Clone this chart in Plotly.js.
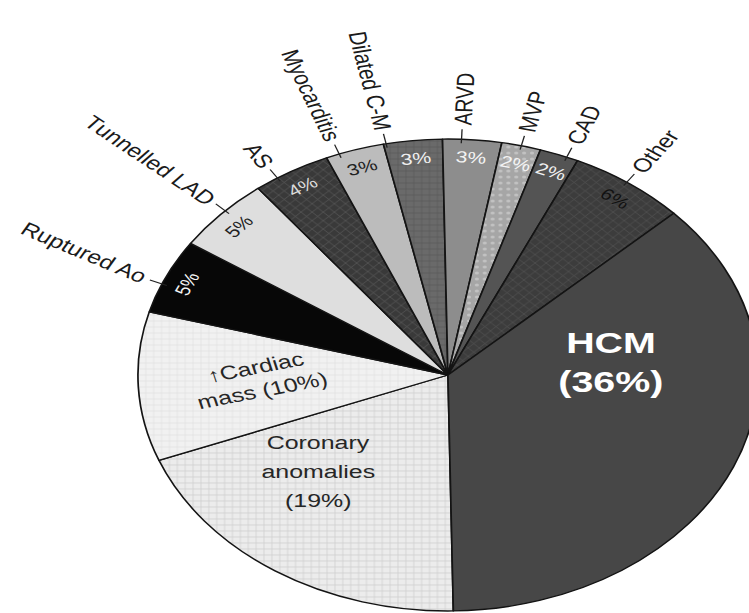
<!DOCTYPE html>
<html><head><meta charset="utf-8">
<script src="https://cdn.plot.ly/plotly-3.0.1.min.js"></script>
<style>
html,body{margin:0;padding:0;overflow:hidden;background:#fff;width:749px;height:613px;}
#chart{width:600px;height:613px;transform:scaleX(1.3136);transform-origin:0 0;}
</style></head><body><div id="chart"></div>
<script>
// ---- data (clockwise from 6 o'clock) ----
const categories = ['Coronary anomalies','Cardiac mass','Ruptured Ao','Tunnelled LAD','AS','Myocarditis','Dilated C-M','ARVD','MVP','CAD','Other','HCM'];
const values = [19,10,5,5,4,3,3,3,2,2,6,36];
const outsideLabels = ['','','Ruptured Ao','Tunnelled LAD','AS','Myocarditis','Dilated C-M','ARVD','MVP','CAD','Other',''];
const percentLabels = values.map(v => v + '%');

// ---- styles ----
const sliceColors = ['#ececec','#f1f1f1','#070707','#dedede','#393939','#bcbcbc','#6a6a6a','#8d8d8d','#a6a6a6','#545454','#3c3c3c','#474747'];
const patShapes   = ['+','+','','','x','','+','','.','','x',''];
const patFg       = ['#cfcfcf','#e2e2e2','#000','#fff','#545454','#fff','#5a5a5a','#fff','#c2c2c2','#fff','#4e4e4e','#fff'];
const pctColors   = ['#262626','#262626','#f4f4f4','#222','#dcdcdc','#222','#f0f0f0','#f4f4f4','#f4f4f4','#f0f0f0','#111','#fff'];
// per-label angular nudges (deg) for outside labels / ticks
const labelShift  = [0,0,-2,1,-3,-3,-5,-2,0,1.5,-0.5,0];
const textTilt    = [0,0,6,-3,0,0,0,0,0,0,0,0];

// ---- geometry (pre-stretch px) ----
const W0 = 600, H0 = 613, CX = 341, CY = 375, R = 236, ROT = 179;
const OUT_FS = 19, PCT_FS = 16;
const total = values.reduce((a,b)=>a+b,0);
let cum = 0;
const mids = values.map(v => { const a0 = ROT + cum/total*360; cum += v; const a1 = ROT + cum/total*360; return (a0+a1)/2; });
const norm = a => ((a+180)%360+360)%360-180;
const polar = (th, r) => { const t = th*Math.PI/180; return [CX + r*Math.sin(t), CY - r*Math.cos(t)]; };
const P = (px, py) => ({x: px/W0, y: 1 - py/H0});
const FONT = 'Liberation Sans, Arial, sans-serif';

const ctx = document.createElement('canvas').getContext('2d');
ctx.font = OUT_FS + 'px "Liberation Sans"';

const annotations = [], shapes = [];
outsideLabels.forEach((lab, i) => {
  if (!lab) return;
  const th = mids[i] + labelShift[i], t = th*Math.PI/180, s = Math.sin(t), c = Math.cos(t);
  const L = ctx.measureText(lab).width;
  const ang = (s < 0 ? Math.atan2(c, -s) : Math.atan2(-c, s)) * 180/Math.PI + textTilt[i];
  // start the text just beyond the tick, then run along the (tilted) direction
  const [tx, ty] = polar(th, R + 14);
  const ar = ang*Math.PI/180, sgn = s < 0 ? -1 : 1;
  const px = tx + sgn*Math.cos(ar)*L/2, py = ty + sgn*Math.sin(ar)*L/2;
  const p = P(px, py);
  annotations.push({x:p.x, y:p.y, xref:'paper', yref:'paper', text:lab, showarrow:false,
    textangle: ang, xanchor:'center', yanchor:'middle',
    font:{family:FONT, size:OUT_FS, color:'#1a1a1a'}});
  const [ax, ay] = polar(th, R - 4), [bx, by] = polar(th, R + 10);
  const a = P(ax, ay), b = P(bx, by);
  shapes.push({type:'line', xref:'paper', yref:'paper', x0:a.x, y0:a.y, x1:b.x, y1:b.y, line:{color:'#222', width:1}});
  const thm = mids[i];
  const [qx, qy] = polar(thm, R - 18);
  const q = P(qx, qy);
  annotations.push({x:q.x, y:q.y, xref:'paper', yref:'paper', text:percentLabels[i], showarrow:false,
    textangle: norm(thm), xanchor:'center', yanchor:'middle',
    font:{family:FONT, size:PCT_FS, color:pctColors[i]}});
});

// big inner labels: lines placed individually
function innerLabel(i, th, rf, lines, fs, gap, rot) {
  const [cx, cy] = polar(th, R*rf);
  const rr = rot*Math.PI/180;
  lines.forEach((ln, k) => {
    const off = (k - (lines.length-1)/2) * gap;
    const px = cx - off*Math.sin(rr), py = cy + off*Math.cos(rr);
    const p = P(px, py);
    annotations.push({x:p.x, y:p.y, xref:'paper', yref:'paper', text:ln, showarrow:false,
      textangle: rot, xanchor:'center', yanchor:'middle',
      font:{family:FONT, size:fs, color:pctColors[i]}});
  });
}
innerLabel(0, 225.5, 0.585, ['Coronary','anomalies',`(${values[0]}%)`], 19, 29, 0);
innerLabel(1, 268.5, 0.61, ['↑Cardiac',`mass (${values[1]}%)`], 19, 24, -14);
innerLabel(11, 84, 0.53, ['<b>HCM</b>',`<b>(${values[11]}%)</b>`], 30, 39, 0);

const trace = {
  type:'pie', values:values, labels:categories, sort:false, direction:'clockwise', rotation:ROT,
  textinfo:'none', hoverinfo:'none', showlegend:false,
  marker:{colors:sliceColors, line:{color:'#141414', width:1.3},
    pattern:{shape:patShapes, fgcolor:patFg, bgcolor:sliceColors, size:6, solidity:0.22}},
  domain:{x:[(CX-R)/W0, (CX+R)/W0], y:[1-(CY+R)/H0, 1-(CY-R)/H0]}
};
const layout = {width:W0, height:H0, margin:{l:0,r:0,t:0,b:0}, paper_bgcolor:'#fff',
  showlegend:false, annotations:annotations, shapes:shapes};
Plotly.newPlot('chart', [trace], layout, {displayModeBar:false, staticPlot:true});
</script></body></html>
